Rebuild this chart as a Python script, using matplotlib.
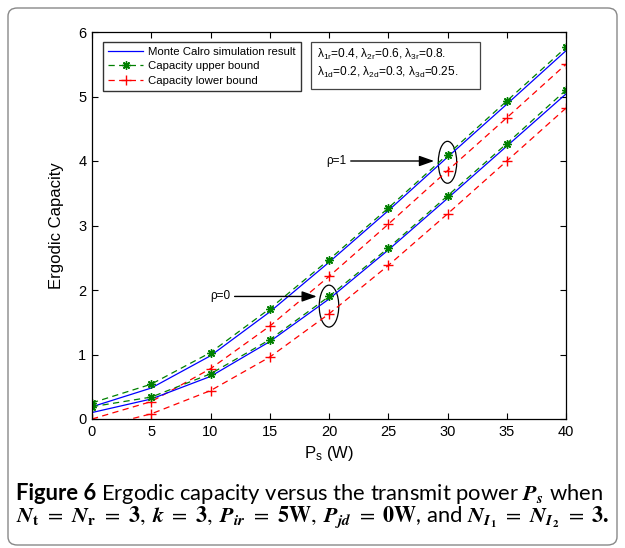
import matplotlib
matplotlib.use("Agg")
import matplotlib.pyplot as plt
from matplotlib.patches import Ellipse, FancyBboxPatch, Rectangle
from matplotlib.mathtext import MathTextParser

plt.rcParams['font.family'] = ['Liberation Sans', 'DejaVu Sans']
plt.rcParams['mathtext.fontset'] = 'custom'
plt.rcParams['mathtext.rm'] = 'Liberation Sans'
plt.rcParams['mathtext.it'] = 'Liberation Sans:italic'
plt.rcParams['mathtext.bf'] = 'Liberation Sans:bold'

ps = [0, 5, 10, 15, 20, 25, 30, 35, 40]
mc_rho1 = [0.19, 0.48, 0.98, 1.66, 2.43, 3.23, 4.06, 4.88, 5.71]
up_rho1 = [0.25, 0.54, 1.03, 1.71, 2.47, 3.27, 4.10, 4.93, 5.76]
lo_rho1 = [0.00, 0.27, 0.78, 1.44, 2.21, 3.02, 3.85, 4.67, 5.50]
mc_rho0 = [0.10, 0.31, 0.66, 1.20, 1.86, 2.62, 3.42, 4.23, 5.04]
up_rho0 = [0.19, 0.34, 0.70, 1.23, 1.90, 2.65, 3.46, 4.27, 5.10]
lo_rho0 = [-0.15, 0.08, 0.44, 0.96, 1.63, 2.38, 3.18, 4.00, 4.82]

xticks = [0, 5, 10, 15, 20, 25, 30, 35, 40]
yticks = [0, 1, 2, 3, 4, 5, 6]

W, H = 625, 548
fig = plt.figure(figsize=(W / 100, H / 100), dpi=100)
ax = fig.add_axes([92 / W, 1 - 419 / H, (566 - 92) / W, (419 - 32) / H])

blue = (0, 0, 1)
green = (0, 0.5, 0)
red = (1, 0, 0)
dash = (0, (5, 3.5))
ast = (8, 2, 0)

l1, = ax.plot(ps, mc_rho1, color=blue, lw=0.9, label='Monte Calro simulation result')
l2, = ax.plot(ps, up_rho1, color=green, lw=0.9, ls=dash, marker=ast, ms=6, mew=1.0,
              label='Capacity upper bound')
l3, = ax.plot(ps, lo_rho1, color=red, lw=0.9, ls=dash, marker='+', ms=7, mew=1.0,
              label='Capacity lower bound')
ax.plot(ps, mc_rho0, color=blue, lw=0.9)
ax.plot(ps, up_rho0, color=green, lw=0.9, ls=dash, marker=ast, ms=6, mew=1.0)
ax.plot(ps, lo_rho0, color=red, lw=0.9, ls=dash, marker='+', ms=7, mew=1.0)

ax.set_xlim(0, 40)
ax.set_ylim(0, 6)
ax.set_xticks(xticks)
ax.set_yticks(yticks)
ax.tick_params(direction='in', top=True, right=True, labelsize=10.5, length=4, width=0.8, pad=4)
for s in ax.spines.values():
    s.set_linewidth(0.9)
ax.set_xlabel('P$_\\mathrm{s}$ (W)', fontsize=12, labelpad=4)
ax.set_ylabel('Ergodic Capacity', fontsize=12, labelpad=10)

leg = ax.legend(handles=[l1, l2, l3], loc='upper left', bbox_to_anchor=(0.023, 0.975),
                fontsize=8.2, frameon=True, fancybox=False, edgecolor='black',
                handlelength=3.1, handletextpad=0.45, borderpad=0.45, labelspacing=0.4,
                borderaxespad=0)
leg.get_frame().set_linewidth(1.0)

# parameter box
ax.add_patch(Rectangle((0.462, 0.853), 0.357, 0.121, transform=ax.transAxes,
                       fc='white', ec='#444444', lw=0.9, zorder=4))
ax.text(0.474, 0.962,
        '\u03bb$_\\mathrm{1r}$=0.4, \u03bb$_\\mathrm{2r}$=0.6, \u03bb$_\\mathrm{3r}$=0.8.\n'
        '\u03bb$_\\mathrm{1d}$=0.2, \u03bb$_\\mathrm{2d}$=0.3, \u03bb$_\\mathrm{3d}$=0.25.',
        transform=ax.transAxes, fontsize=8.6, va='top', ha='left', linespacing=1.25,
        zorder=5)

# annotations
ax.annotate('', xy=(29.1, 4.0), xytext=(21.6, 4.0),
            arrowprops=dict(arrowstyle='-|>,head_length=0.9,head_width=0.32', color='black', lw=1.0))
ax.text(21.5, 4.0, '\u03c1=1', fontsize=8.5, ha='right', va='center')
ax.add_patch(Ellipse((30.0, 3.98), 1.55, 0.65, fill=False, ec='black', lw=0.9))

ax.annotate('', xy=(19.2, 1.9), xytext=(11.8, 1.9),
            arrowprops=dict(arrowstyle='-|>,head_length=0.9,head_width=0.32', color='black', lw=1.0))
ax.text(11.7, 1.9, '\u03c1=0', fontsize=8.5, ha='right', va='center')
ax.add_patch(Ellipse((20.0, 1.75), 1.65, 0.65, fill=False, ec='black', lw=0.9))

# border
fig.patches.append(FancyBboxPatch((8 / W, 3 / H), (617 - 8) / W, (540 - 3) / H,
                                  boxstyle='round,pad=0,rounding_size=0.015',
                                  transform=fig.transFigure, fc='none', ec='#888888', lw=1.0))

# caption
def mathok(s):
    try:
        MathTextParser('path').parse(s)
        return True
    except Exception:
        return False

bf = '\\mathbfit' if mathok('$\\mathbfit{N}$') else '\\mathit'
hs = '\\hspace{0.35}' if mathok('$a\\hspace{0.35}b$') else '\\;'

def bi(s):
    return bf + '{' + s + '}'

cap_font = ['Lato', 'DejaVu Sans']
fs = 15.8
eq = hs + '=' + hs
cm = ',\\;'
fig.canvas.draw()
r = fig.canvas.get_renderer()
t1 = fig.text(16 / W, 1 - 494 / H, 'Figure 6', fontsize=fs, fontweight='bold',
              family=cap_font, va='center', ha='left')
bb = t1.get_window_extent(r)
fig.text((bb.x1 + 5) / W, 1 - 494 / H,
         'Ergodic capacity versus the transmit power $' + bi('P_s') + '$ when',
         fontsize=fs, family=cap_font, va='center', ha='left', math_fontfamily='stix')
line2 = ('$' + bi('N') + '_{\\mathbf{t}}' + eq + bi('N') + '_{\\mathbf{r}}' + eq + '\\mathbf{3}' + cm
         + bi('k') + eq + '\\mathbf{3}' + cm + bi('P') + '_{' + bi('ir') + '}' + eq + '\\mathbf{5W}' + cm
         + bi('P') + '_{' + bi('jd') + '}' + eq + '\\mathbf{0W}$, and $'
         + bi('N') + '_{' + bi('I') + '_\\mathbf{1}}' + eq + bi('N') + '_{' + bi('I')
         + '_\\mathbf{2}}' + eq + '\\mathbf{3.}$')
fig.text(16 / W, 1 - 518 / H, line2, fontsize=fs, family=cap_font, va='center', ha='left',
         math_fontfamily='stix')

fig.savefig('out.png', dpi=100)
